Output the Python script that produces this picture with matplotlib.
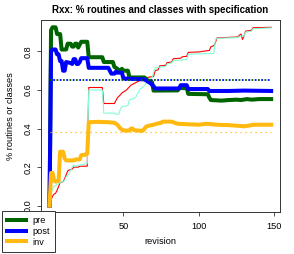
import numpy as np
import matplotlib
matplotlib.use("Agg")
import matplotlib.pyplot as plt

plt.rcParams['font.family'] = ['Liberation Sans', 'DejaVu Sans']

# pre (dark green)
pre_rev = [1, 2, 3, 5, 6, 8, 9, 12, 13, 15, 16, 17, 18, 19, 20, 21, 22, 26, 27, 36, 37, 43, 44, 46, 47,
           48, 49, 50, 53, 54, 64, 66, 68, 69, 70, 86, 87, 92, 93, 106, 107, 108, 115, 120, 125, 128,
           132, 135, 140, 148]
pre_val = [0.0, 0.91, 0.925, 0.925, 0.89, 0.89, 0.81, 0.81, 0.84, 0.84, 0.825, 0.825, 0.84, 0.84, 0.82,
           0.835, 0.85, 0.85, 0.77, 0.77, 0.745, 0.745, 0.72, 0.71, 0.70, 0.70, 0.71, 0.70, 0.70, 0.665,
           0.665, 0.65, 0.645, 0.64, 0.597, 0.598, 0.61, 0.61, 0.58, 0.578, 0.56, 0.548, 0.545, 0.548,
           0.55, 0.548, 0.553, 0.55, 0.553, 0.553]

# post (blue)
post_rev = [1, 2, 3, 5, 6, 7, 8, 9, 10, 11, 12, 15, 16, 17, 18, 19, 20, 21, 22, 26, 27, 40, 41, 42, 44,
            45, 46, 49, 50, 64, 66, 68, 70, 71, 87, 88, 92, 93, 106, 107, 120, 130, 148]
post_val = [0.0, 0.80, 0.81, 0.81, 0.785, 0.785, 0.75, 0.75, 0.70, 0.70, 0.745, 0.74, 0.735, 0.76, 0.76,
            0.735, 0.735, 0.745, 0.765, 0.765, 0.715, 0.715, 0.70, 0.685, 0.685, 0.695, 0.69, 0.69, 0.66,
            0.655, 0.645, 0.635, 0.62, 0.608, 0.608, 0.625, 0.625, 0.605, 0.605, 0.595, 0.595, 0.597, 0.595]

# inv (orange)
inv_rev = [1, 2, 3, 4, 5, 7, 8, 10, 11, 12, 17, 18, 21, 22, 25, 26, 27, 33, 40, 44, 46, 48, 50, 54, 55,
           56, 57, 62, 63, 65, 67, 70, 72, 75, 76, 82, 84, 86, 94, 100, 105, 112, 120, 125, 130, 133,
           136, 148]
inv_val = [0.0, 0.17, 0.17, 0.13, 0.125, 0.13, 0.28, 0.28, 0.245, 0.235, 0.235, 0.24, 0.24, 0.262, 0.265,
           0.27, 0.433, 0.435, 0.433, 0.43, 0.42, 0.40, 0.39, 0.39, 0.40, 0.40, 0.392, 0.388, 0.39, 0.41,
           0.415, 0.42, 0.425, 0.43, 0.436, 0.436, 0.43, 0.425, 0.422, 0.42, 0.425, 0.42, 0.418, 0.415,
           0.412, 0.415, 0.42, 0.42]

# thin red
red_rev = [1, 2, 3, 4, 5, 6, 7, 8, 10, 11, 12, 13, 14, 16, 17, 20, 21, 26, 27, 36, 37, 44, 45, 46, 48,
           49, 52, 55, 61, 67, 70, 71, 73, 74, 78, 79, 82, 83, 88, 89, 92, 93, 101, 102, 107, 108, 110,
           111, 112, 126, 127, 128, 129, 130, 131, 135, 136, 148]
red_val = [0.0, 0.03, 0.05, 0.06, 0.065, 0.08, 0.10, 0.12, 0.125, 0.14, 0.16, 0.18, 0.185, 0.19, 0.20,
           0.20, 0.205, 0.205, 0.613, 0.613, 0.53, 0.53, 0.545, 0.56, 0.575, 0.585, 0.60, 0.625, 0.65,
           0.667, 0.67, 0.70, 0.705, 0.725, 0.728, 0.742, 0.745, 0.762, 0.765, 0.772, 0.775, 0.795, 0.798,
           0.80, 0.805, 0.824, 0.83, 0.845, 0.87, 0.875, 0.885, 0.89, 0.862, 0.88, 0.905, 0.91, 0.923, 0.925]

# thin aquamarine
aqua_rev = [1, 2, 3, 4, 6, 8, 11, 12, 13, 14, 16, 17, 18, 24, 26, 27, 36, 37, 44, 45, 47, 48, 49, 53, 54,
            58, 61, 63, 67, 69, 70, 71, 73, 78, 79, 82, 83, 92, 93, 98, 110, 111, 112, 126, 127, 130, 131,
            135, 136, 148]
aqua_val = [0.0, 0.06, 0.09, 0.10, 0.11, 0.12, 0.13, 0.15, 0.155, 0.17, 0.20, 0.21, 0.205, 0.215, 0.22,
            0.60, 0.60, 0.48, 0.48, 0.475, 0.475, 0.50, 0.513, 0.52, 0.55, 0.56, 0.605, 0.615, 0.65, 0.665,
            0.69, 0.715, 0.718, 0.722, 0.735, 0.74, 0.752, 0.758, 0.785, 0.787, 0.79, 0.86, 0.868, 0.872,
            0.878, 0.88, 0.9, 0.905, 0.918, 0.922]

avg_pre = 0.651
avg_post = 0.650
avg_inv = 0.383

fig = plt.figure(figsize=(2.94, 2.54), dpi=100)
ax = fig.add_axes([0.1384, 0.1634, 0.9524 - 0.1384, 0.9213 - 0.1634])

ax.plot(red_rev, red_val, color='red', lw=0.8)
ax.plot(aqua_rev, aqua_val, color='aquamarine', lw=0.8)
ax.plot(pre_rev, pre_val, color='darkgreen', lw=2.9, label='pre')
ax.plot(post_rev, post_val, color='blue', lw=2.9, label='post')
ax.plot(inv_rev, inv_val, color='#FFB90F', lw=2.9, label='inv')

x0, x1 = 1, 148
ax.plot([x0, x1], [avg_pre, avg_pre], color='darkgreen', lw=1.3, ls=(0, (1, 2.6)))
ax.plot([x0, x1], [avg_post, avg_post], color='blue', lw=1.3, ls=(1.8, (1, 2.6)))
ax.plot([x0, x1], [avg_inv, avg_inv], color='#FFB90F', lw=0.9, ls=(0, (1, 3)))

ax.set_xlim(-4.88, 153.88)
ax.set_ylim(-0.035, 0.963)
# the 0 tick sits under the legend box
ax.set_xticks([50, 100, 150])
ax.set_yticks([0.0, 0.2, 0.4, 0.6, 0.8])
ax.set_yticklabels(['0.0', '0.2', '0.4', '0.6', '0.8'], rotation=90, va='center')
ax.tick_params(labelsize=6.6, length=3, width=0.6, color='#333333', pad=3)
ax.tick_params(axis='x', pad=4)
for s in ax.spines.values():
    s.set_linewidth(0.7)
    s.set_color('#333333')

ax.set_title('Rxx: % routines and classes with specification', fontsize=7.0,
             fontweight='bold', pad=5)
ax.set_xlabel('revision', fontsize=6.6, labelpad=4)
ax.set_ylabel('% routines or classes', fontsize=6.6, labelpad=6)

leg = fig.legend(loc='lower left', bbox_to_anchor=(0.008, 0.009), bbox_transform=fig.transFigure,
                 fontsize=6.6, frameon=True, fancybox=False, handlelength=2.0,
                 borderpad=0.55, labelspacing=0.2, handletextpad=0.7, borderaxespad=0)
leg.get_frame().set_edgecolor('#333333')
leg.get_frame().set_linewidth(0.7)
leg.get_frame().set_alpha(1)

fig.savefig('out.png', dpi=100)
